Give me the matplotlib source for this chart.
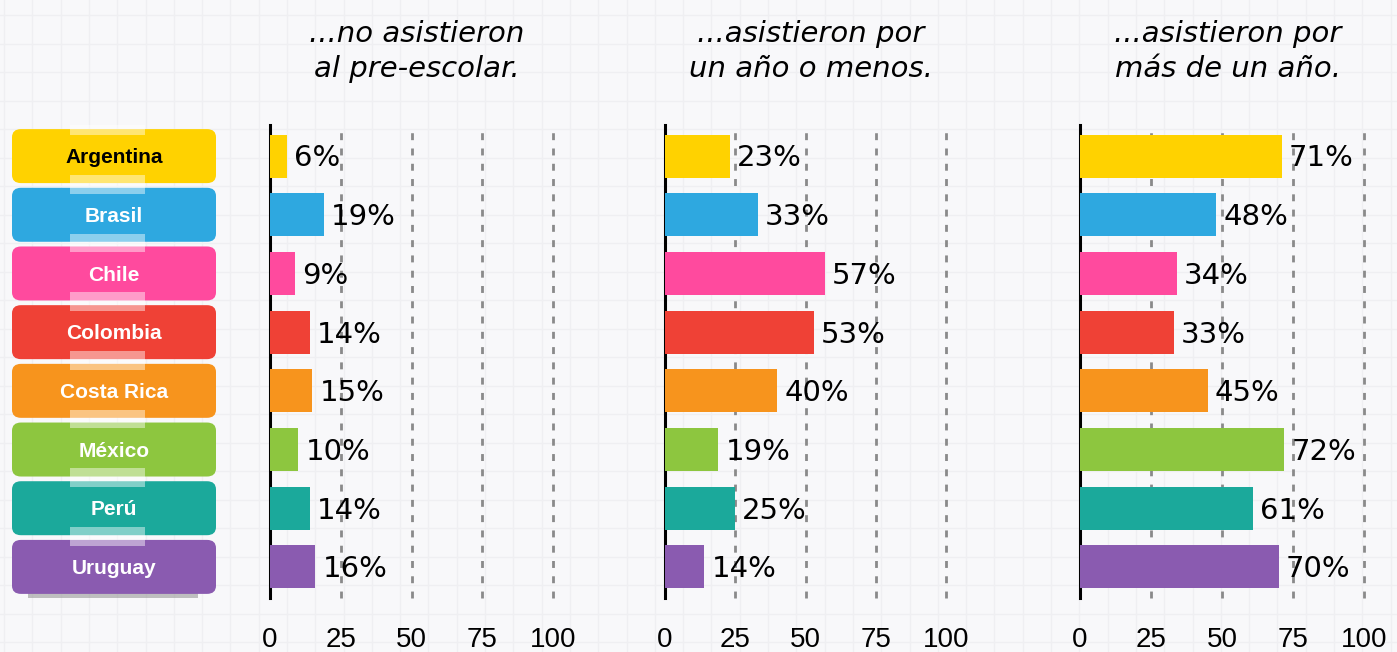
import numpy as np
import matplotlib.pyplot as plt
from matplotlib.patches import FancyBboxPatch, Rectangle

# datos
paises = ['Argentina', 'Brasil', 'Chile', 'Colombia', 'Costa Rica', 'México', 'Perú', 'Uruguay']
no_asistieron = [6, 19, 9, 14, 15, 10, 14, 16]
un_anio_o_menos = [23, 33, 57, 53, 40, 19, 25, 14]
mas_de_un_anio = [71, 48, 34, 33, 45, 72, 61, 70]
titulos = ['...no asistieron\nal pre-escolar.',
           '...asistieron por\nun año o menos.',
           '...asistieron por\nmás de un año.']
ticks = [0, 25, 50, 75, 100]

colores = ['#FFD200', '#2EA8E0', '#FF4A9E', '#EF4136', '#F7941D', '#8DC63F', '#1BA99B', '#8A5BB0']
color_texto = ['black'] + ['white'] * 7

W, H = 1397, 652
fig = plt.figure(figsize=(W / 100, H / 100), dpi=100)
fig.patch.set_facecolor('#F8F8FA')

# fondo cuadriculado
bg = fig.add_axes([0, 0, 1, 1], zorder=-10)
bg.set_xlim(0, W)
bg.set_ylim(H, 0)
bg.axis('off')
for gx in np.arange(4, W, 28.3):
    bg.axvline(gx, color='#EFEFF2', lw=1.0)
for gy in np.arange(15, H, 28.5):
    bg.axhline(gy, color='#EFEFF2', lw=1.0)

y_top, y_bot = 125, 598
bottom = 1 - y_bot / H
height = (y_bot - y_top) / H
ypos = np.arange(len(paises))
ylim = (7.53, -0.53)

paneles = [(270, 553, no_asistieron), (665, 946, un_anio_o_menos), (1080, 1364, mas_de_un_anio)]

for (x0, x1, vals), titulo in zip(paneles, titulos):
    ax = fig.add_axes([x0 / W, bottom, (x1 - x0) / W, height])
    ax.set_facecolor('none')
    ax.barh(ypos, vals, height=0.73, color=colores, zorder=3)
    ax.set_xlim(0, 100)
    ax.set_ylim(*ylim)
    for t in ticks[1:]:
        ax.axvline(t, color='#8A8A8A', lw=2, ls=(0, (2.5, 3)), zorder=1, clip_on=False)
    for spine in ['top', 'right', 'bottom']:
        ax.spines[spine].set_visible(False)
    ax.spines['left'].set_linewidth(2.2)
    ax.spines['left'].set_color('black')
    ax.set_yticks([])
    ax.set_xticks(ticks)
    ax.set_xticklabels([str(t) for t in ticks], fontsize=20, family='Liberation Sans')
    ax.tick_params(axis='x', length=0, pad=21)
    for y, v in zip(ypos, vals):
        ax.text(v + 2.5, y + 0.04, f'{v}%', va='center', ha='left', fontsize=21,
                zorder=4)
    ax.text(52, -1.25, titulo, ha='center', va='bottom', fontsize=21, style='italic',
            linespacing=1.3)

# etiquetas de países
lab = fig.add_axes([0, bottom, 250 / W, height])
lab.set_xlim(0, 250)
lab.set_ylim(*ylim)
lab.axis('off')
sombra = FancyBboxPatch((28, 7.25), 170, 0.4, boxstyle='round,pad=0,rounding_size=0.1',
                        fc='#8F8F8F', ec='none', alpha=0.55, zorder=1)
lab.add_patch(sombra)
for y, p, c, tc in zip(ypos, paises, colores, color_texto):
    caja = FancyBboxPatch((12, y - 0.46), 204, 0.92,
                          boxstyle='round,pad=0,rounding_size=9',
                          mutation_aspect=0.0155, fc=c, ec='none', zorder=2)
    lab.add_patch(caja)
    lab.text(114, y + 0.03, p, ha='center', va='center', fontsize=15, fontweight='bold',
             family='Liberation Sans', color=tc, zorder=4)
    # cinta adhesiva
    cinta = Rectangle((70, y - 0.68), 75, 0.32, fc='white', ec='none',
                      alpha=0.45, zorder=3)
    lab.add_patch(cinta)

plt.savefig('out.png', dpi=100, facecolor=fig.get_facecolor())
